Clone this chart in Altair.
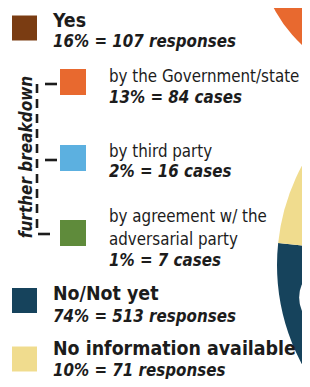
import math
import altair as alt
import pandas as pd

# ---------------- data ----------------
categories = ["Yes", "by the Government/state", "by third party",
              "by agreement w/ the adversarial party", "No/Not yet",
              "No information available"]
label_lines = [["Yes"], ["by the Government/state"], ["by third party"],
               ["by agreement w/ the", "adversarial party"], ["No/Not yet"],
               ["No information available"]]
percents = [16, 13, 2, 1, 74, 10]
counts = [107, 84, 16, 7, 513, 71]
units = ["responses", "cases", "cases", "cases", "responses", "responses"]
is_breakdown = [False, True, True, True, False, False]
bracket_label = "further breakdown"

main_pie_cats = ["No/Not yet", "No information available", "Yes"]
main_pie_vals = [513, 71, 107]
sub_pie_cats = ["by the Government/state", "by third party",
                "by agreement w/ the adversarial party"]
sub_pie_vals = [84, 16, 7]

palette = ["#7a3c12", "#e8692f", "#5cb0e0", "#5f8b3b", "#16435c", "#f0dc8e"]

# ---------------- layout (screen pixels) ----------------
W, H, M = 294, 371, 8
FONT = "Liberation Sans Narrow, DejaVu Sans Condensed, Roboto, sans-serif"
INK = "#1c1c1c"
ROW_Y = [28, 82, 158, 233, 300.5, 359]
SQ_X = {False: 24.5, True: 73}
SQ_SIDE = {False: 25, True: 26}
TXT_X = {False: 53, True: 109}
LABEL_BASE = [27, 82, 157, 222, 300, 354.5]
SUB_BASE = [47, 103, 177, 266, 322, 376]
LINE = 23
BRACKET_X = 37
TICK_X = [(45, 57), (45, 57), (38, 50)]
TICK_DY = [2, 2, 1]
BRACKET_TEXT = (32, 157)
MAIN_PIE = dict(cx=487, cy=265, r=210, start=0.153)
SUB_PIE = dict(cx=396, cy=-56, r=138, start=0.5)
HOLE = dict(cx=331.5, cy=297.5, r=36.5)

xs = alt.Scale(domain=[M, M + W], range=[0, W])
ys = alt.Scale(domain=[M, M + H], range=[0, H])
cs = alt.Scale(domain=categories, range=palette)

X = lambda f: alt.X(f, type="quantitative", scale=xs, axis=None)
Y = lambda f: alt.Y(f, type="quantitative", scale=ys, axis=None)
X2 = lambda f: alt.X2(f)
Y2 = lambda f: alt.Y2(f)

# ---------------- tables ----------------
legend_rows, head_rows, label_rows, sub_rows = [], [], [], []
for i, c in enumerate(categories):
    b = is_breakdown[i]
    legend_rows.append(dict(cat=c, sx=SQ_X[b], sy=ROW_Y[i], area=SQ_SIDE[b] ** 2))
    for j, ln in enumerate(label_lines[i]):
        r = dict(t=ln, tx=TXT_X[b], ty=LABEL_BASE[i] + j * LINE)
        (label_rows if b else head_rows).append(r)
    sub_rows.append(dict(t=f"{percents[i]}% = {counts[i]} {units[i]}",
                         tx=TXT_X[b], ty=SUB_BASE[i]))

legend_df = pd.DataFrame(legend_rows)
head_df = pd.DataFrame(head_rows)
label_df = pd.DataFrame(label_rows)
sub_df = pd.DataFrame(sub_rows)

bd_y = [ROW_Y[i] for i in range(len(categories)) if is_breakdown[i]]
ticks_df = pd.DataFrame([dict(x1=a, x2=b, y=yy + d)
                         for (a, b), yy, d in zip(TICK_X, bd_y, TICK_DY)])
vert_df = pd.DataFrame([dict(x=BRACKET_X, y1=bd_y[0] + TICK_DY[0],
                             y2=bd_y[-1] + TICK_DY[-1])])
btxt_df = pd.DataFrame([dict(t=bracket_label, x=BRACKET_TEXT[0], y=BRACKET_TEXT[1])])

main_df = pd.DataFrame(dict(cat=main_pie_cats, v=main_pie_vals,
                            o=list(range(len(main_pie_vals))),
                            cx=MAIN_PIE["cx"], cy=MAIN_PIE["cy"]))
sub_pie_df = pd.DataFrame(dict(cat=sub_pie_cats, v=sub_pie_vals,
                               o=list(range(len(sub_pie_vals))),
                               cx=SUB_PIE["cx"], cy=SUB_PIE["cy"]))
hole_df = pd.DataFrame([dict(cx=HOLE["cx"], cy=HOLE["cy"])])


def pie(df, p):
    return alt.Chart(df).mark_arc(radius=p["r"], stroke=None).encode(
        x=X("cx"), y=Y("cy"),
        theta=alt.Theta("v:Q", stack=True,
                        scale=alt.Scale(range=[p["start"], p["start"] + 2 * math.pi])),
        order=alt.Order("o:Q"),
        color=alt.Color("cat:N", scale=cs, legend=None),
    )


main_pie = pie(main_df, MAIN_PIE)
sub_pie = pie(sub_pie_df, SUB_PIE)
hole = alt.Chart(hole_df).mark_circle(
    color="white", opacity=1, size=math.pi * HOLE["r"] ** 2).encode(x=X("cx"), y=Y("cy"))

squares = alt.Chart(legend_df).mark_square(opacity=1).encode(
    x=X("sx"), y=Y("sy"),
    size=alt.Size("area:Q", scale=None),
    color=alt.Color("cat:N", scale=cs, legend=None),
)

heads = alt.Chart(head_df).mark_text(
    font=FONT, fontWeight="bold", fontSize=19.4, align="left",
    baseline="alphabetic", color=INK).encode(x=X("tx"), y=Y("ty"), text="t:N")
labels = alt.Chart(label_df).mark_text(
    font=FONT, fontSize=16.8, align="left",
    baseline="alphabetic", color=INK).encode(x=X("tx"), y=Y("ty"), text="t:N")
subs = alt.Chart(sub_df).mark_text(
    font=FONT, fontWeight="bold", fontStyle="italic", fontSize=16.8, align="left",
    baseline="alphabetic", color=INK).encode(x=X("tx"), y=Y("ty"), text="t:N")

vert = alt.Chart(vert_df).mark_rule(
    color=INK, strokeWidth=2.6, strokeDash=[9, 6]).encode(
    x=X("x"), y=Y("y1"), y2=Y2("y2"))
ticks = alt.Chart(ticks_df).mark_rule(color=INK, strokeWidth=2.6).encode(
    x=X("x1"), x2=X2("x2"), y=Y("y"))
btxt = alt.Chart(btxt_df).mark_text(
    font=FONT, fontWeight="bold", fontStyle="italic", fontSize=17, angle=270,
    align="center", baseline="alphabetic", color=INK).encode(
    x=X("x"), y=Y("y"), text="t:N")

chart = alt.layer(
    sub_pie, main_pie, hole, squares, heads, labels, subs, vert, ticks, btxt
).resolve_scale(theta="independent").properties(
    width=W, height=H, autosize="none", padding=0,
    background="white",
).configure_view(stroke=None)

chart.save("out.html", embed_options={"renderer": "svg", "actions": False})
